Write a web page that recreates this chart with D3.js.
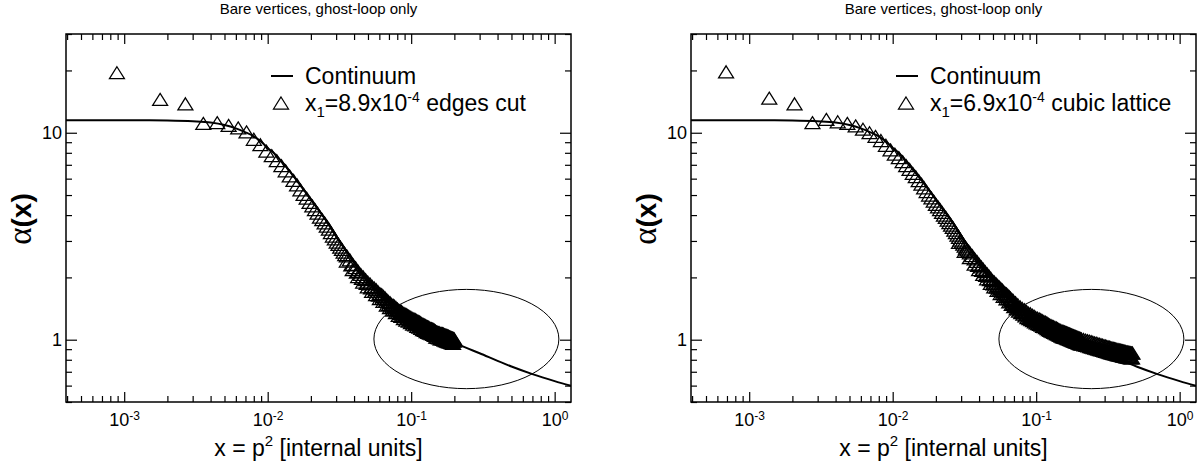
<!DOCTYPE html>
<html>
<head>
<meta charset="utf-8">
<script src="https://cdn.jsdelivr.net/npm/d3@7"></script>
<style>
  body { margin: 0; background: #fff; }
  svg { display: block; font-family: "Liberation Sans", Arial, Helvetica, sans-serif; }
</style>
</head>
<body>
<svg id="chart" width="1199" height="467"></svg>
<script>
// ---- data ----
const title = "Bare vertices, ghost-loop only";

// continuum running coupling alpha(x)
const continuumX = [3.93e-4, 6e-4, 1e-3, 1.5e-3, 2e-3, 3e-3, 4e-3, 5e-3, 6e-3, 7e-3, 8e-3, 9e-3,
  0.010, 0.011, 0.012, 0.013, 0.014, 0.015, 0.016, 0.018, 0.020, 0.022, 0.024, 0.026, 0.028, 0.030,
  0.035, 0.040, 0.045, 0.050, 0.060, 0.070, 0.080, 0.100, 0.120, 0.150, 0.200, 0.250, 0.300,
  0.400, 0.500, 0.700, 1.000, 1.300];
const continuumY = [11.5, 11.5, 11.5, 11.48, 11.45, 11.35, 11.2, 10.9, 10.5, 10.05, 9.6, 9.05,
  8.45, 8.0, 7.5, 7.05, 6.62, 6.22, 5.86, 5.25, 4.75, 4.35, 4.0, 3.7, 3.4, 3.15,
  2.7, 2.36, 2.1, 1.92, 1.68, 1.5, 1.38, 1.24, 1.15, 1.05, 0.965, 0.905, 0.86,
  0.79, 0.742, 0.682, 0.6305, 0.598];

// lattice, edges cut: x = n * x1
const edgesCutX1 = 8.9e-4;
const edgesCutN = [1, 2, 3, 4, 5, 6, 7, 8, 9, 10, 11, 12, 13, 14, 15, 16, 17, 18, 19, 20,
  21, 22, 23, 24, 25, 26, 27, 28, 29, 30, 31, 32, 33, 34, 35, 36, 37, 38, 39, 40,
  42, 44, 46, 48, 50, 52, 54, 56, 58, 60, 62, 64, 66, 68, 70, 72, 74, 76, 78, 80,
  82, 84, 86, 88, 90, 92, 94, 96, 98, 100,
  102, 104, 106, 108, 110, 112, 114, 116, 118, 120, 122, 124, 126, 128, 130, 132, 134, 136, 138, 140,
  142, 144, 146, 148, 150, 152, 154, 156, 158, 160, 162, 164, 166, 168, 170, 172, 174, 176, 178, 180,
  182, 184, 186, 188, 190, 192, 194, 196, 198, 200, 202, 204, 206, 208, 210, 212, 214, 216, 218, 220,
  222, 224];
const edgesCutY = [19.5, 14.5, 13.8, 11.1, 11.2, 10.85, 10.55, 10.1, 9.3, 8.75, 8.15, 7.75, 7.33, 6.93, 6.55, 6.18, 5.89, 5.6, 5.3, 5.04,
  4.83, 4.61, 4.43, 4.25, 4.09, 3.91, 3.8, 3.67, 3.54, 3.42, 3.29, 3.17, 3.07, 2.96, 2.89, 2.8, 2.73, 2.65, 2.58, 2.54,
  2.43, 2.31, 2.23, 2.14, 2.07, 2.01, 1.95, 1.9, 1.86, 1.81, 1.78, 1.745, 1.705, 1.67, 1.65, 1.62, 1.59, 1.56, 1.53, 1.51,
  1.48, 1.47, 1.45, 1.43, 1.41, 1.39, 1.38, 1.37, 1.35, 1.34,
  1.33, 1.32, 1.31, 1.30, 1.29, 1.28, 1.27, 1.26, 1.255, 1.25, 1.24, 1.23, 1.225, 1.22, 1.21, 1.20, 1.19, 1.185, 1.18, 1.175,
  1.167, 1.16, 1.155, 1.15, 1.142, 1.135, 1.132, 1.13, 1.125, 1.12, 1.115, 1.11, 1.10, 1.09, 1.088, 1.085, 1.082, 1.08, 1.075, 1.07,
  1.07, 1.07, 1.068, 1.065, 1.06, 1.055, 1.052, 1.05, 1.048, 1.045, 1.042, 1.04, 1.035, 1.03, 1.028, 1.025, 1.022, 1.02, 1.018, 1.015,
  1.012, 1.01];
// further momenta at nearby x (lower branches)
const edgesCutN2 = [40, 44, 48, 52, 56, 60, 64, 68, 72, 76, 80, 84, 88, 92, 96, 100,
  104, 108, 112, 116, 120, 124, 128, 132, 136, 140, 144, 148, 152, 156, 160, 164, 168, 172, 176, 180,
  184, 188, 192, 196, 200, 204, 208, 212, 216, 220];
const edgesCutY2 = [2.40, 2.18, 2.02, 1.90, 1.80, 1.71, 1.65, 1.58, 1.53, 1.47, 1.43, 1.39, 1.35, 1.31, 1.295, 1.265,
  1.245, 1.23, 1.21, 1.19, 1.18, 1.16, 1.15, 1.135, 1.12, 1.11, 1.095, 1.085, 1.075, 1.07, 1.06, 1.05, 1.03, 1.025, 1.02, 1.01,
  1.01, 1.005, 0.995, 0.99, 0.985, 0.98, 0.975, 0.97, 0.965, 0.96];
const edgesCutN3 = [43, 47, 51, 55, 59, 63, 67, 71, 75, 79, 83, 87, 91, 95, 99, 103, 107, 111, 115, 119,
  123, 127, 131, 135, 139, 143, 147, 151, 155, 159, 163, 167, 171, 175, 179, 183, 187, 191, 195, 199,
  203, 207, 211, 215, 219, 223];
const edgesCutY3 = [2.30, 2.12, 1.98, 1.87, 1.78, 1.71, 1.64, 1.59, 1.53, 1.48, 1.435, 1.40, 1.36, 1.335, 1.31, 1.29, 1.27, 1.25, 1.23, 1.215,
  1.20, 1.19, 1.17, 1.155, 1.145, 1.13, 1.12, 1.105, 1.10, 1.09, 1.08, 1.065, 1.055, 1.05, 1.04, 1.04, 1.035, 1.027, 1.022, 1.017,
  1.012, 1.003, 0.997, 0.992, 0.988, 0.983];

// lattice, cubic: x = n * x1
const cubicX1 = 6.9e-4;
const cubicN = [1, 2, 3, 4, 5, 6, 7, 8, 9, 10, 11, 12, 13, 14, 15, 16, 17, 18, 19, 20,
  21, 22, 23, 24, 25, 26, 27, 28, 29, 30, 31, 32, 33, 34, 35, 36, 37, 38, 39, 40,
  41, 42, 43, 44, 45, 46, 47, 48, 49, 50,
  52, 54, 56, 58, 60, 62, 64, 66, 68, 70, 72, 74, 76, 78, 80, 82, 84, 86, 88, 90,
  92, 94, 96, 98, 100,
  104, 108, 112, 116, 120, 124, 128, 132, 136, 140, 144, 148, 152, 156, 160, 164, 168, 172, 176, 180,
  184, 188, 192, 196, 200, 204, 208, 212, 216, 220, 224, 228, 232, 236, 240, 244, 248, 252, 256, 260,
  264, 268, 272, 276, 280, 284, 288, 292, 296, 300,
  310, 320, 330, 340, 350, 360, 370, 380, 390, 400, 410, 420, 430, 440, 450, 460, 470, 480, 490, 500,
  510, 520, 530, 540, 550, 560, 570, 580, 590, 600, 610, 620, 630, 640, 650, 660, 670, 680];
const cubicY = [19.7, 14.7, 13.8, 11.2, 11.6, 11.3, 11.1, 10.8, 10.4, 10.0,
  9.6, 9.17, 8.7, 8.27, 7.88, 7.58, 7.25, 6.94, 6.65, 6.36,
  6.13, 5.87, 5.65, 5.42, 5.2, 5.0, 4.84, 4.67, 4.51, 4.38,
  4.25, 4.12, 4.0, 3.9, 3.78, 3.68, 3.58, 3.49, 3.38, 3.29,
  3.2, 3.12, 3.03, 2.96, 2.9, 2.83, 2.77, 2.72, 2.68, 2.63,
  2.55, 2.46, 2.39, 2.31, 2.25, 2.19, 2.13, 2.08, 2.03, 1.98,
  1.93, 1.9, 1.865, 1.83, 1.80, 1.77, 1.74, 1.71, 1.68, 1.665,
  1.64, 1.615, 1.59, 1.565, 1.55,
  1.51, 1.475, 1.44, 1.415, 1.395, 1.37, 1.345, 1.335, 1.315, 1.30,
  1.28, 1.27, 1.26, 1.25, 1.235, 1.225, 1.215, 1.205, 1.19, 1.18,
  1.17, 1.16, 1.155, 1.145, 1.14, 1.13, 1.12, 1.115, 1.105, 1.1,
  1.095, 1.09, 1.085, 1.08, 1.075, 1.07, 1.065, 1.06, 1.055, 1.05,
  1.045, 1.04, 1.036, 1.032, 1.028, 1.024, 1.02, 1.016, 1.012, 1.008,
  1.002, 0.996, 0.99, 0.984, 0.978, 0.972, 0.966, 0.961, 0.956, 0.951,
  0.946, 0.941, 0.936, 0.932, 0.928, 0.924, 0.92, 0.916, 0.912, 0.908,
  0.905, 0.902, 0.899, 0.896, 0.893, 0.89, 0.887, 0.884, 0.882, 0.879,
  0.877, 0.874, 0.872, 0.87, 0.868, 0.866, 0.864, 0.862];
// further momenta at nearby x (lower branches)
const cubicN2 = [42, 46, 50, 54, 58, 62, 66, 70, 74, 78, 82, 86, 90, 94, 98,
  102, 106, 110, 114, 118, 122, 126, 130, 134, 138, 142, 146, 150, 154, 158, 162, 166, 170, 174, 178,
  182, 186, 190, 194, 198, 202, 206, 210, 214, 218, 222, 226, 230, 234, 238, 242, 246, 250, 254, 258,
  262, 266, 270, 274, 278, 282, 286, 290, 294, 298, 302,
  315, 325, 335, 345, 355, 365, 375, 385, 395, 405, 415, 425, 435, 445, 455, 465, 475, 485, 495, 505,
  515, 525, 535, 545, 555, 565, 575, 585, 595, 605, 615, 625, 635, 645, 655, 665, 675];
const cubicY2 = [2.95, 2.67, 2.49, 2.32, 2.18, 2.07, 1.97, 1.87, 1.80, 1.73, 1.67, 1.62, 1.575, 1.525, 1.48,
  1.445, 1.41, 1.375, 1.35, 1.33, 1.305, 1.28, 1.265, 1.25, 1.235, 1.22, 1.205, 1.195, 1.185, 1.175, 1.16, 1.155, 1.145, 1.13, 1.12,
  1.11, 1.10, 1.095, 1.085, 1.08, 1.07, 1.065, 1.055, 1.05, 1.04, 1.035, 1.03, 1.027, 1.022, 1.018, 1.013, 1.008, 1.004, 0.999, 0.994,
  0.99, 0.985, 0.981, 0.977, 0.973, 0.97, 0.966, 0.962, 0.958, 0.954, 0.951,
  0.944, 0.938, 0.933, 0.927, 0.921, 0.916, 0.911, 0.906, 0.901, 0.896, 0.892, 0.887, 0.883, 0.879, 0.875, 0.871, 0.867, 0.864, 0.86, 0.857,
  0.854, 0.851, 0.848, 0.845, 0.842, 0.84, 0.837, 0.834, 0.832, 0.83, 0.827, 0.825, 0.823, 0.821, 0.819, 0.817, 0.816];
const cubicN3 = [57, 61, 65, 69, 73, 77, 81, 85, 89, 93, 97, 101, 105, 109, 113, 117, 121, 125, 129, 133,
  137, 141, 145, 149, 153, 157, 161, 165, 169, 173, 177, 181, 185, 189, 193, 197, 201, 205, 209, 213,
  217, 221, 225, 229, 233, 237, 241, 245, 249, 253, 257, 261, 265, 269, 273, 277, 281, 285, 289, 293,
  297, 301];
const cubicY3 = [2.285, 2.16, 2.045, 1.95, 1.86, 1.795, 1.735, 1.675, 1.625, 1.58, 1.535, 1.50, 1.46, 1.425, 1.395, 1.37, 1.35, 1.325, 1.305, 1.295,
  1.275, 1.26, 1.24, 1.23, 1.22, 1.21, 1.20, 1.19, 1.18, 1.167, 1.155, 1.145, 1.135, 1.125, 1.12, 1.11, 1.105, 1.095, 1.088, 1.08,
  1.073, 1.068, 1.063, 1.058, 1.054, 1.049, 1.044, 1.039, 1.034, 1.029, 1.025, 1.02, 1.015, 1.01, 1.006, 1.002, 0.998, 0.994, 0.99, 0.987,
  0.983, 0.979];

// axes
const xDomain = [3.93e-4, 1.3];
const yDomain = [0.5, 30];
const xMajorTicks = [1e-3, 1e-2, 1e-1, 1];
const xTickExponents = ["-3", "-2", "-1", "0"];
const yMajorTicks = [1, 10];
const yTickLabels = ["1", "10"];

// highlighted region (ellipse bounds in data units)
const ellipseX = [0.055, 1.07];
const ellipseY = [0.58, 1.75];

const panels = [
  { left: 66, x1: edgesCutX1,
    groups: [[edgesCutN, edgesCutY], [edgesCutN2, edgesCutY2], [edgesCutN3, edgesCutY3]],
    x1Text: "8.9x10", exp: "-4", tail: " edges cut" },
  { left: 691, x1: cubicX1,
    groups: [[cubicN, cubicY], [cubicN2, cubicY2], [cubicN3, cubicY3]],
    x1Text: "6.9x10", exp: "-4", tail: " cubic lattice" }
];

// ---- drawing ----
const svg = d3.select("#chart");
const plotTop = 34, plotW = 505, plotH = 368;
const triPath = "M0,-6L7.5,6L-7.5,6Z";

const continuum = continuumX.map((v, i) => [v, continuumY[i]]);

panels.forEach(p => {
  const g = svg.append("g").attr("transform", `translate(${p.left},${plotTop})`);
  const x = d3.scaleLog().domain(xDomain).range([0, plotW]);
  const y = d3.scaleLog().domain(yDomain).range([plotH, 0]);

  const xMinor = x.ticks().filter(t => !xMajorTicks.some(m => Math.abs(m - t) / m < 1e-9));
  const yMinor = y.ticks().filter(t => !yMajorTicks.some(m => Math.abs(m - t) / m < 1e-9));

  const clipId = "clip" + p.left;
  g.append("clipPath").attr("id", clipId).append("rect")
    .attr("width", plotW).attr("height", plotH);

  const axes = g.append("g").attr("class", "axes");
  function styleAxis(sel) {
    sel.select(".domain").remove();
    sel.selectAll(".tick line").attr("stroke", "#000").attr("stroke-width", 1.2);
    sel.selectAll(".tick text").attr("fill", "#000");
  }
  // bottom
  axes.append("g").attr("transform", `translate(0,${plotH})`)
    .call(d3.axisBottom(x).tickValues(xMinor).tickSizeInner(-6).tickSizeOuter(0).tickFormat(""))
    .call(styleAxis);
  const bx = axes.append("g").attr("transform", `translate(0,${plotH})`)
    .call(d3.axisBottom(x).tickValues(xMajorTicks).tickSizeInner(-10).tickSizeOuter(0).tickPadding(8))
    .call(styleAxis);
  bx.attr("font-family", null).attr("font-size", null);
  bx.selectAll(".tick text").each(function (d, i) {
    const t = d3.select(this);
    t.text(null).attr("font-size", 18).attr("dy", "0.9em");
    t.append("tspan").text("10");
    t.append("tspan").attr("dy", "-0.55em").attr("font-size", 12).text(xTickExponents[i]);
  });
  // top
  axes.append("g")
    .call(d3.axisTop(x).tickValues(xMinor).tickSizeInner(-6).tickSizeOuter(0).tickFormat(""))
    .call(styleAxis);
  axes.append("g")
    .call(d3.axisTop(x).tickValues(xMajorTicks).tickSizeInner(-10).tickSizeOuter(0).tickFormat(""))
    .call(styleAxis);
  // left
  axes.append("g")
    .call(d3.axisLeft(y).tickValues(yMinor).tickSizeInner(-6).tickSizeOuter(0).tickFormat(""))
    .call(styleAxis);
  const ly = axes.append("g")
    .call(d3.axisLeft(y).tickValues(yMajorTicks).tickSizeInner(-11).tickSizeOuter(0).tickPadding(4)
      .tickFormat((d, i) => yTickLabels[i]))
    .call(styleAxis);
  ly.attr("font-family", null).attr("font-size", null);
  ly.selectAll(".tick text").attr("font-size", 18);
  // right
  axes.append("g").attr("transform", `translate(${plotW},0)`)
    .call(d3.axisRight(y).tickValues(yMinor).tickSizeInner(-6).tickSizeOuter(0).tickFormat(""))
    .call(styleAxis);
  axes.append("g").attr("transform", `translate(${plotW},0)`)
    .call(d3.axisRight(y).tickValues(yMajorTicks).tickSizeInner(-11).tickSizeOuter(0).tickFormat(""))
    .call(styleAxis);

  // frame
  g.append("rect").attr("width", plotW).attr("height", plotH)
    .attr("fill", "none").attr("stroke", "#000").attr("stroke-width", 1.5);

  const data = g.append("g").attr("clip-path", `url(#${clipId})`);

  // continuum curve
  const line = d3.line().x(d => x(d[0])).y(d => y(d[1])).curve(d3.curveMonotoneX);
  data.append("path").datum(continuum).attr("d", line)
    .attr("fill", "none").attr("stroke", "#000").attr("stroke-width", 2);

  // lattice points
  const pts = p.groups.flatMap(([ns, ys]) => ns.map((n, i) => [n * p.x1, ys[i]]));
  data.append("g").selectAll("path").data(pts).join("path")
    .attr("d", triPath)
    .attr("transform", d => `translate(${x(d[0])},${y(d[1])})`)
    .attr("fill", "none").attr("stroke", "#000").attr("stroke-width", 1.25);

  // ellipse
  const ex0 = x(ellipseX[0]), ex1 = x(ellipseX[1]);
  const ey0 = y(ellipseY[1]), ey1 = y(ellipseY[0]);
  g.append("ellipse")
    .attr("cx", (ex0 + ex1) / 2).attr("cy", (ey0 + ey1) / 2)
    .attr("rx", (ex1 - ex0) / 2).attr("ry", (ey1 - ey0) / 2)
    .attr("fill", "none").attr("stroke", "#000").attr("stroke-width", 1);

  // legend
  const lg = g.append("g");
  lg.append("line").attr("x1", 205).attr("x2", 227).attr("y1", 42).attr("y2", 42)
    .attr("stroke", "#000").attr("stroke-width", 2);
  lg.append("text").attr("x", 239).attr("y", 50).attr("font-size", 23).text("Continuum");
  lg.append("path").attr("d", triPath).attr("transform", "translate(215,69)")
    .attr("fill", "none").attr("stroke", "#000").attr("stroke-width", 1.25);
  const lt = lg.append("text").attr("x", 239).attr("y", 77).attr("font-size", 23);
  lt.append("tspan").text("x");
  lt.append("tspan").attr("dy", 6).attr("font-size", 15).text("1");
  lt.append("tspan").attr("dy", -6).text("=" + p.x1Text);
  lt.append("tspan").attr("dy", -9).attr("font-size", 14).text(p.exp);
  lt.append("tspan").attr("dy", 9).text(p.tail);

  // titles
  g.append("text").attr("x", plotW / 2).attr("y", -20).attr("text-anchor", "middle")
    .attr("font-size", 15).text(title);
  const xl = g.append("text").attr("x", plotW / 2).attr("y", plotH + 54)
    .attr("text-anchor", "middle").attr("font-size", 23);
  xl.append("tspan").text("x = p");
  xl.append("tspan").attr("dy", -10).attr("font-size", 15).text("2");
  xl.append("tspan").attr("dy", 10).text(" [internal units]");

  const yl = g.append("text").attr("transform", `translate(-35,${plotH / 2 + 1}) rotate(-90)`)
    .attr("text-anchor", "middle").attr("font-size", 28);
  yl.append("tspan").attr("font-family", "'Liberation Serif', 'DejaVu Serif', serif").attr("font-size", 33).text("α");
  yl.append("tspan").attr("font-weight", "bold").text("(x)");
});
</script>
</body>
</html>
